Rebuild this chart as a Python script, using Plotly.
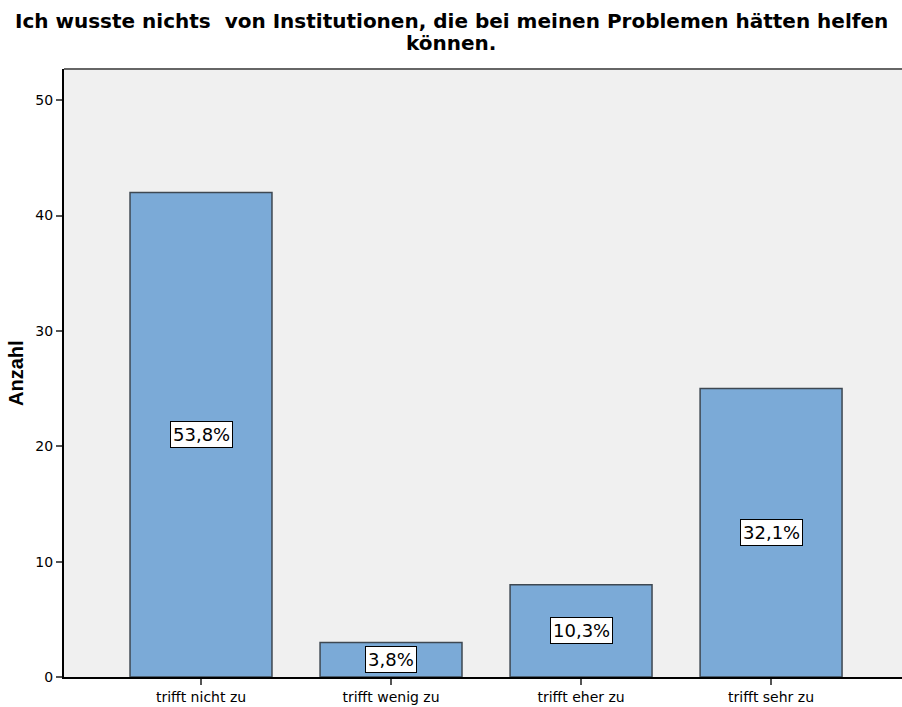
import plotly.graph_objects as go

categories = ["trifft nicht zu", "trifft wenig zu", "trifft eher zu", "trifft sehr zu"]
counts = [42, 3, 8, 25]
percent_labels = ["53,8%", "3,8%", "10,3%", "32,1%"]
tick_values = [0, 10, 20, 30, 40, 50]

title_lines = ["Ich wusste nichts \u00a0von Institutionen, die bei meinen Problemen hätten helfen",
               "können."]
y_title = "Anzahl"

WIDE = "DejaVu Sans, Verdana, sans-serif"
ARIAL = "Liberation Sans, Arial, sans-serif"

fig = go.Figure()
fig.add_trace(go.Bar(
    x=list(range(len(categories))),
    y=counts,
    width=0.747,
    marker=dict(color="#7BAAD7", line=dict(color="#3E4852", width=1.5)),
    hoverinfo="skip",
))

for i, (c, lab) in enumerate(zip(counts, percent_labels)):
    fig.add_annotation(
        x=i, y=c / 2, text=lab, showarrow=False,
        font=dict(family=WIDE, size=18, color="black"),
        bgcolor="white", bordercolor="black", borderwidth=1, borderpad=2,
    )

# title (two lines, tight spacing)
for line, shift in zip(title_lines, [48, 26]):
    fig.add_annotation(
        xref="paper", yref="paper", x=(451 - 64) / 838, y=1, yshift=shift,
        xanchor="center", yanchor="middle", showarrow=False, text=f"<b>{line}</b>",
        font=dict(family=WIDE, size=20, color="black"),
    )

# y axis title
fig.add_annotation(
    xref="paper", yref="paper", x=0, xshift=-48, y=0.5,
    xanchor="center", yanchor="middle", textangle=-90, showarrow=False,
    text=f"<b>{y_title}</b>", font=dict(family=ARIAL, size=20, color="black"),
)

fig.update_layout(
    width=902, height=707,
    margin=dict(l=64, r=0, t=69, b=30, autoexpand=False),
    paper_bgcolor="white",
    plot_bgcolor="#F0F0F0",
    showlegend=False,
    font=dict(family=WIDE, size=13, color="black"),
)

fig.update_xaxes(
    range=[-0.721, 3.689],
    tickmode="array",
    tickvals=list(range(len(categories))),
    ticktext=categories,
    ticks="outside", ticklen=6, tickwidth=2, tickcolor="#555555",
    showline=True, linecolor="black", linewidth=2,
    showgrid=False, zeroline=False, automargin=False,
    tickfont=dict(family=WIDE, size=14),
)
fig.update_yaxes(
    range=[0, 52.7],
    tickmode="array",
    tickvals=tick_values,
    ticks="outside", ticklen=6, tickwidth=2, tickcolor="#555555",
    showline=True, linecolor="black", linewidth=2,
    showgrid=False, zeroline=False, automargin=False,
    tickfont=dict(family=WIDE, size=14),
)

fig.add_shape(type="line", xref="paper", yref="paper", x0=0, x1=1, y0=1, y1=1,
              line=dict(color="#666666", width=2))

fig.write_html("out.html", config={"displayModeBar": False},
               post_script="document.body.style.margin='0';document.body.style.padding='0';")
